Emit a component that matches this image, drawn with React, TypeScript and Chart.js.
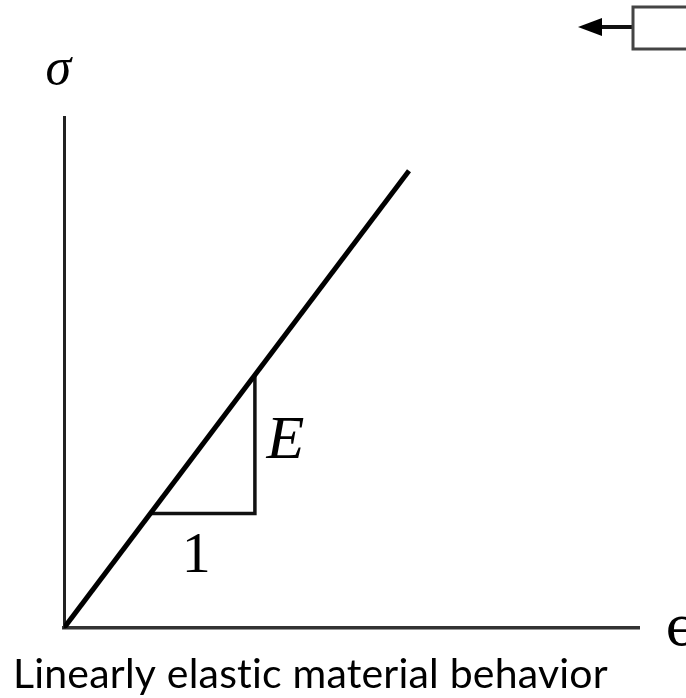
import React, { useEffect, useRef } from "react";
import { Chart, registerables } from "chart.js";

Chart.register(...registerables);

// Stress–strain line (arbitrary units)
const strainLine = [0, 60];
const stressLine = [0, 89.5];
// Slope triangle (run = "1", rise = "E")
const triStrain = [15, 33.2, 33.2];
const triStress = [22.4, 22.4, 49.5];
// Axis range
const axisMax = 100;
// Texts
const yLabel = "σ";
const xLabel = "ϵ";
const riseLabel = "E";
const runLabel = "1";
const caption = "Linearly elastic material behavior";

const annotations = {
  id: "annotations",
  afterDraw(chart: any) {
    const { ctx, scales } = chart;
    const xs = scales.x;
    const ys = scales.y;
    const X = (v: number) => xs.getPixelForValue(v);
    const Y = (v: number) => ys.getPixelForValue(v);
    ctx.save();
    ctx.fillStyle = "#000";
    ctx.textBaseline = "alphabetic";

    ctx.font = "italic 52px 'Liberation Serif'";
    ctx.textAlign = "center";
    ctx.fillText(yLabel, X(-1), Y(106.5));

    ctx.font = "italic 62px 'Liberation Serif'";
    ctx.textAlign = "left";
    ctx.fillText(riseLabel, X(35.2), Y(33.3));

    ctx.font = "58px 'Liberation Serif'";
    ctx.textAlign = "center";
    ctx.fillText(runLabel, X(23), Y(11));

    ctx.font = "54px 'DejaVu Serif'";
    ctx.textAlign = "left";
    ctx.fillText(xLabel, X(104.6), Y(-3.3));

    ctx.font = "41px Lato";
    ctx.textAlign = "left";
    try { (ctx as any).letterSpacing = "0.2px"; } catch (e) {}
    ctx.fillText(caption, 13, chart.height - 10);
    try { (ctx as any).letterSpacing = "0px"; } catch (e) {}

    // leftover slide arrow + box at top right
    const w = chart.width;
    ctx.strokeStyle = "#111";
    ctx.lineWidth = 4;
    ctx.beginPath();
    ctx.moveTo(w - 53, 27);
    ctx.lineTo(w - 96, 27);
    ctx.stroke();
    ctx.beginPath();
    ctx.moveTo(w - 108, 27);
    ctx.lineTo(w - 84, 18);
    ctx.lineTo(w - 84, 36);
    ctx.closePath();
    ctx.fill();
    ctx.strokeStyle = "#444";
    ctx.lineWidth = 3;
    ctx.strokeRect(w - 53, 7, 80, 42);
    ctx.restore();
  },
};

export default function App() {
  const ref = useRef<HTMLCanvasElement | null>(null);
  useEffect(() => {
    if (!ref.current) return;
    const chart = new Chart(ref.current, {
      type: "scatter",
      data: {
        datasets: [
          {
            data: strainLine.map((x, i) => ({ x, y: stressLine[i] })),
            showLine: true,
            borderColor: "#000",
            borderWidth: 5,
            pointRadius: 0,
          },
          {
            data: triStrain.map((x, i) => ({ x, y: triStress[i] })),
            showLine: true,
            borderColor: "#111",
            borderWidth: 3.5,
            pointRadius: 0,
          },
        ],
      },
      options: {
        responsive: false,
        animation: false,
        devicePixelRatio: 1,
        layout: { padding: { left: 64, right: 47, top: 117, bottom: 70 } },
        plugins: { legend: { display: false }, tooltip: { enabled: false } },
        scales: {
          x: {
            type: "linear",
            min: 0,
            max: axisMax,
            grid: { display: false, drawTicks: false },
            ticks: { display: false },
            border: { display: true, color: "#333", width: 3.5 },
          },
          y: {
            type: "linear",
            min: 0,
            max: axisMax,
            grid: { display: false, drawTicks: false },
            ticks: { display: false },
            border: { display: true, color: "#222", width: 3 },
          },
        },
      },
      plugins: [annotations],
    });
    return () => chart.destroy();
  }, []);
  return (
    <div style={{ position: "absolute", left: 0, top: 0, width: 686, height: 698, background: "#fff" }}>
      <canvas ref={ref} width={686} height={698} />
    </div>
  );
}
